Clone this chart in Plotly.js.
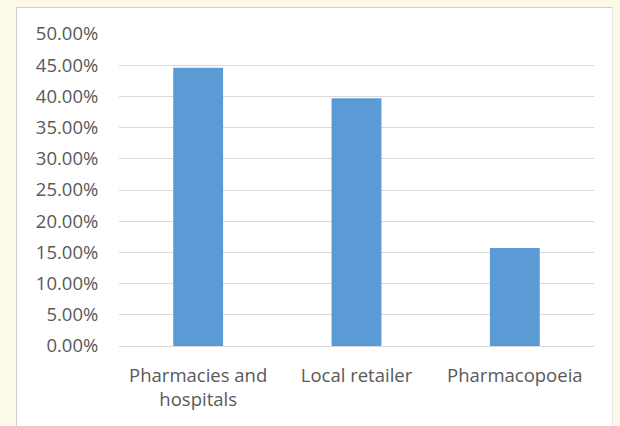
<!DOCTYPE html>
<html>
<head>
<meta charset="utf-8">
<script src="https://cdn.plot.ly/plotly-3.0.1.min.js"></script>
<style>
html,body{margin:0;padding:0;background:#FEFAE9;width:620px;height:426px;overflow:hidden;}
#box{position:absolute;left:16px;top:7px;width:595px;height:430px;background:#ffffff;border-left:1px solid #cfcfcf;border-top:1px solid #cfcfcf;border-right:1px solid #e8e8e8;}
#chart{position:absolute;left:0;top:0;width:620px;height:426px;}
</style>
</head>
<body>
<div id="box"></div>
<div id="chart"></div>
<script>
const categories = ["Pharmacies and<br>hospitals", "Local retailer", "Pharmacopoeia"];
const shares = [0.446, 0.397, 0.157];
const tickValues = [0, 0.05, 0.10, 0.15, 0.20, 0.25, 0.30, 0.35, 0.40, 0.45, 0.50];

const font = {family: "Open Sans, sans-serif", size: 18.5, color: "#595959"};

Plotly.newPlot("chart", [{
  type: "bar",
  x: categories,
  y: shares,
  marker: {color: "#5B9BD5"},
  hoverinfo: "none"
}], {
  width: 620,
  height: 426,
  margin: {l: 119, r: 26, t: 34, b: 80},
  paper_bgcolor: "rgba(0,0,0,0)",
  plot_bgcolor: "rgba(0,0,0,0)",
  bargap: 0.685,
  showlegend: false,
  font: font,
  xaxis: {
    showgrid: false,
    showline: false,
    zeroline: false,
    ticks: "outside",
    ticklen: 13,
    tickcolor: "rgba(0,0,0,0)",
    tickfont: font
  },
  yaxis: {
    range: [0, 0.5],
    tickvals: tickValues,
    tickformat: ".2%",
    showgrid: true,
    gridcolor: "#d9d9d9",
    gridwidth: 1,
    zeroline: true,
    zerolinecolor: "#d9d9d9",
    zerolinewidth: 1,
    showline: false,
    ticks: "outside",
    ticklen: 16,
    tickcolor: "rgba(0,0,0,0)",
    tickfont: font
  }
}, {displayModeBar: false, staticPlot: true});
</script>
</body>
</html>
